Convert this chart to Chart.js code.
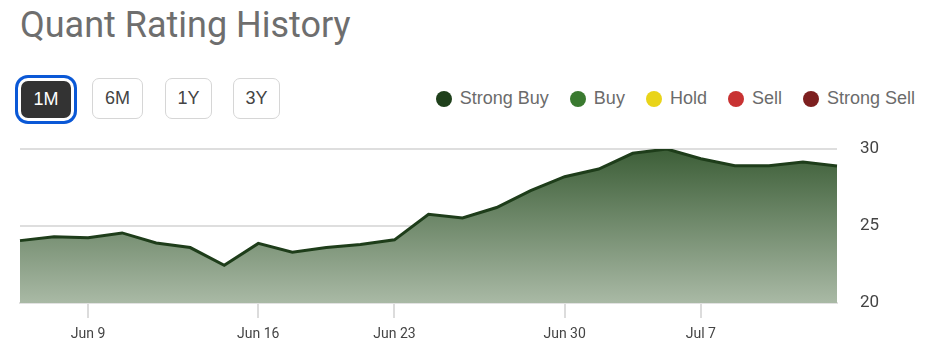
<!DOCTYPE html>
<html>
<head>
<meta charset="utf-8">
<script src="https://cdn.jsdelivr.net/npm/chart.js@4.4.1/dist/chart.umd.min.js"></script>
<style>
    body { margin: 0; width: 943px; height: 353px; background: #fff; font-family: Roboto, sans-serif; overflow: hidden; position: relative; }
    .title { position: absolute; left: 20px; top: 4px; font-size: 36px; color: #6e6e6e; }
    .btn { position: absolute; top: 78px; height: 41px; box-sizing: border-box; border: 1px solid #d6d6d6; border-radius: 7px; background: #fff; font-family: "Liberation Sans", Arial, sans-serif; font-size: 18px; color: #444; display: flex; align-items: center; justify-content: center; }
    .btn.active { background: #333; color: #fff; border: none; box-shadow: 0 0 0 3px #fff, 0 0 0 6px #0a58d6; top: 81px; height: 37px; }
    .legend { position: absolute; right: 28px; top: 88px; display: flex; font-family: "Liberation Sans", Arial, sans-serif; font-size: 18px; color: #6b6b6b; }
    .legend span { display: flex; align-items: center; margin-left: 21px; }
    .legend i { width: 16px; height: 16px; border-radius: 50%; margin-right: 8px; display: inline-block; }
    #wrap { position: absolute; left: 0; top: 130px; width: 943px; height: 223px; }
</style>
</head>
<body>
<div class="title">Quant Rating History</div>
<div class="btn active" style="left:21px;width:50px;">1M</div>
<div class="btn" style="left:92px;width:51px;">6M</div>
<div class="btn" style="left:165px;width:47px;">1Y</div>
<div class="btn" style="left:233px;width:47px;">3Y</div>
<div class="legend" id="legend"></div>
<div id="wrap"><canvas id="chart"></canvas></div>
<script>
// trading days, Jun 5 - Jul 11
const dates = ['Jun 5', 'Jun 6', 'Jun 9', 'Jun 10', 'Jun 11', 'Jun 12', 'Jun 13',
    'Jun 16', 'Jun 17', 'Jun 18', 'Jun 20', 'Jun 23', 'Jun 24', 'Jun 25', 'Jun 26', 'Jun 27',
    'Jun 30', 'Jul 1', 'Jul 2', 'Jul 3', 'Jul 7', 'Jul 8', 'Jul 9', 'Jul 10', 'Jul 11'];
const ratings = [24.05, 24.3, 24.24, 24.55, 23.9, 23.6, 22.45, 23.87, 23.3, 23.6, 23.8, 24.1,
    25.76, 25.52, 26.2, 27.3, 28.2, 28.7, 29.72, 30.0, 29.37, 28.92, 28.92, 29.15, 28.9];
const tickDates = ['Jun 9', 'Jun 16', 'Jun 23', 'Jun 30', 'Jul 7'];
const yTicks = [20, 25, 30];
const legendNames = ['Strong Buy', 'Buy', 'Hold', 'Sell', 'Strong Sell'];
const legendColors = ['#1f401b', '#3a7a30', '#e9d419', '#c83232', '#7d1f1f'];

const legendEl = document.getElementById('legend');
legendNames.forEach((name, i) => {
    const item = document.createElement('span');
    item.innerHTML = `<i style="background:${legendColors[i]}"></i>${name}`;
    legendEl.appendChild(item);
});

const ctx = document.getElementById('chart').getContext('2d');

new Chart(ctx, {
    type: 'line',
    data: {
        labels: dates,
        datasets: [{
            data: ratings,
            borderColor: '#1e3d1a',
            borderWidth: 3,
            pointRadius: 0,
            tension: 0,
            fill: 'start',
            backgroundColor: function(context) {
                const area = context.chart.chartArea;
                if (!area) return '#5a7a55';
                const g = context.chart.ctx.createLinearGradient(0, area.top, 0, area.bottom);
                g.addColorStop(0, '#3c5e37');
                g.addColorStop(1, '#a9b9a5');
                return g;
            }
        }]
    },
    options: {
        responsive: true,
        maintainAspectRatio: false,
        animation: false,
        layout: { padding: { left: 20, top: 19, right: 0, bottom: 0 } },
        plugins: { legend: { display: false }, tooltip: { enabled: false } },
        scales: {
            x: {
                offset: false,
                border: { color: '#e2e2e2', width: 2 },
                grid: { drawOnChartArea: false, color: '#dcdcdc', tickLength: 15, lineWidth: 2 },
                ticks: {
                    autoSkip: false,
                    maxRotation: 0,
                    padding: 8,
                    color: '#444',
                    font: { family: 'Roboto', size: 14 },
                    callback: function(value) {
                        const label = this.getLabelForValue(value);
                        return tickDates.includes(label) ? label : null;
                    }
                },
                afterFit: function(scale) { scale.height = 50; }
            },
            y: {
                position: 'right',
                min: 20,
                max: 30,
                border: { display: false },
                grid: { color: '#dedede', lineWidth: 2, drawTicks: false },
                afterBuildTicks: function(scale) { scale.ticks = yTicks.map(v => ({ value: v })); },
                ticks: {
                    padding: 23,
                    color: '#444',
                    font: { family: 'Roboto', size: 17 }
                },
                afterFit: function(scale) {
                    scale.width = 106;
                    scale.paddingTop = 0;
                    scale.paddingBottom = 0;
                }
            }
        }
    }
});
</script>
</body>
</html>
